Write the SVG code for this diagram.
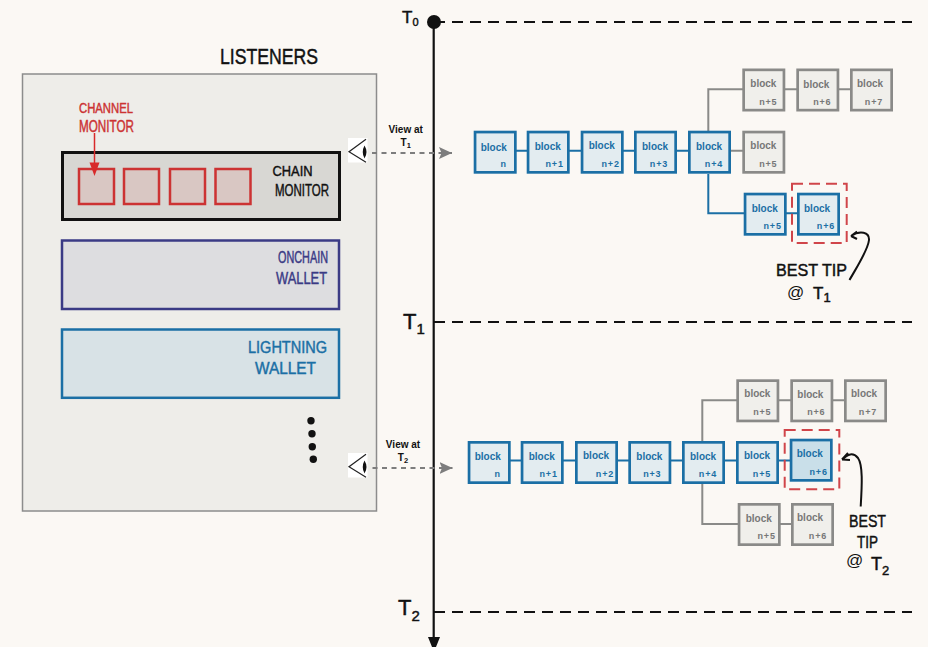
<svg xmlns="http://www.w3.org/2000/svg" width="928" height="647" viewBox="0 0 928 647">
<style>
text{font-family:"Liberation Sans",Arial,sans-serif}
.b rect{x:1.35px;y:1.35px;width:40.3px;height:40.3px;stroke-width:2.7}
.bl rect{fill:#e3ecf0;stroke:#1b6fa5}
.bl text{fill:#1b6fa5}
.tip rect{fill:#c9dfe9;stroke:#1b6fa5}
.tip text{fill:#1b6fa5}
.gr rect{fill:#f0efeb;stroke:#8a8a88}
.gr text{fill:#777}
.w{font-size:10px;font-weight:bold}
.v{font-size:9px;font-weight:bold;letter-spacing:.8px;text-anchor:end}
.hand{stroke-width:.45px}
.k{fill:#111;stroke:#111}
.r{fill:#cc3333;stroke:#cc3333}
.p{fill:#3a3a85;stroke:#3a3a85}
.u{fill:#1b6fa5;stroke:#1b6fa5}
.lk{fill:none;stroke-width:2}
.lb{stroke:#1b6fa5}
.lg{stroke:#8a8a88}
.tl{stroke:#111;stroke-width:2;stroke-dasharray:11 7;fill:none}
.view{stroke:#7d7d7d;stroke-width:2;stroke-dasharray:5 4.5;fill:none}
.best{fill:none;stroke:#d0454a;stroke-width:2;stroke-dasharray:11 6}
.red rect{x:0;y:0;width:35px;height:35px;fill:#d9c7c3;stroke:#cc3333;stroke-width:2.5}
.vw{font-size:10px;font-weight:bold;text-anchor:middle;fill:#111}
</style>
<defs>
<g id="eye">
<rect x="348" y="138" width="19.500" height="24.500" fill="#fff"/>
<path d="M366 139.300 L349 151.700 L366 162.300" fill="none" stroke="#222" stroke-width="1.200"/>
<path d="M364.500 145.500 Q368.500 152 364.500 158.500 Q361 152 364.500 145.500Z" fill="#111"/>
</g>
<marker id="ga" markerWidth="13" markerHeight="12" refX="13" refY="6" orient="auto" markerUnits="userSpaceOnUse"><path d="M0 0L13 6L0 12L2.500 6Z" fill="#7d7d7d"/></marker>
</defs>
<rect width="928" height="647" fill="#fbf8f4"/>

<g id="listeners">
<text x="220" y="64" font-size="22" class="hand k" textLength="98" lengthAdjust="spacingAndGlyphs">LISTENERS</text>
<rect x="22.500" y="74" width="354" height="437" fill="#eeede9" stroke="#8c8c8c" stroke-width="1.500"/>
</g>
<g id="chain-monitor">
<rect x="62.500" y="152.500" width="277" height="67" fill="#d8d7d3" stroke="#111" stroke-width="3"/>
<text x="272.500" y="176" font-size="15.500" class="hand k" textLength="40" lengthAdjust="spacingAndGlyphs">CHAIN</text>
<text x="275" y="195.500" font-size="16.500" class="hand k" textLength="54" lengthAdjust="spacingAndGlyphs">MONITOR</text>
</g>
<g id="channel-monitors" class="red">
<rect transform="translate(79 169)"/>
<rect transform="translate(124 169)"/>
<rect transform="translate(170 169)"/>
<rect transform="translate(215.500 169)"/>
</g>
<g id="channel-monitor-label">
<text x="79" y="113" font-size="14" class="hand r" textLength="54" lengthAdjust="spacingAndGlyphs">CHANNEL</text>
<text x="79" y="132" font-size="16" class="hand r" textLength="55" lengthAdjust="spacingAndGlyphs">MONITOR</text>
<path d="M94.500 133V164" stroke="#d82a2a" stroke-width="1.500"/>
<path d="M89.500 162.500H99.500L94.500 176Z" fill="#d82a2a"/>
</g>
<g id="onchain-wallet">
<rect x="62" y="240.500" width="277" height="68.500" fill="#dddde0" stroke="#3a3a85" stroke-width="2.500"/>
<text x="278" y="263" font-size="16" class="hand p" textLength="50" lengthAdjust="spacingAndGlyphs">ONCHAIN</text>
<text x="276" y="284" font-size="17" class="hand p" textLength="51" lengthAdjust="spacingAndGlyphs">WALLET</text>
</g>
<g id="lightning-wallet">
<rect x="62" y="329.500" width="277" height="68.300" fill="#d8e2e6" stroke="#1b6fa5" stroke-width="2.500"/>
<text x="248" y="353" font-size="17" class="hand u" textLength="79" lengthAdjust="spacingAndGlyphs">LIGHTNING</text>
<text x="255" y="374" font-size="17" class="hand u" textLength="61" lengthAdjust="spacingAndGlyphs">WALLET</text>
</g>
<g id="more-dots" fill="#111">
<circle cx="311" cy="420.700" r="3.700"/><circle cx="312" cy="433.700" r="3.700"/><circle cx="312.300" cy="446.700" r="3.700"/><circle cx="313.300" cy="459.300" r="3.700"/>
</g>

<g id="connectors">
<path class="tl" d="M434 22H912M434 322H912M434 612H912"/>
<path d="M433.700 22V640" stroke="#111" stroke-width="2.200"/>
<path d="M428 637H440L434 652Z" fill="#111"/>
<circle cx="434" cy="22" r="7" fill="#111"/>
<path class="view" d="M372 153H452" marker-end="url(#ga)"/>
<path class="view" d="M372.500 468H452.500" marker-end="url(#ga)"/>
<path class="lk lb" d="M516 150.700H688M708.300 174V213.300H800"/>
<path class="lk lg" d="M708.300 131V89.300H850M720 150.700H745"/>
<path class="lk lb" d="M510 460.500H792"/>
<path class="lk lg" d="M702.300 441V400.300H848M702.300 484V524H795"/>
</g>

<g id="t1-n" class="b bl" transform="translate(473.700 130.700)"><rect/><text class="w" x="7" y="20">block</text><text class="v" x="33" y="36">n</text></g>
<g id="t1-n1" class="b bl" transform="translate(526.700 130.700)"><rect/><text class="w" x="8" y="19">block</text><text class="v" x="37" y="36">n+1</text></g>
<g id="t1-n2" class="b bl" transform="translate(580.700 130.700)"><rect/><text class="w" x="8" y="18">block</text><text class="v" x="39" y="36">n+2</text></g>
<g id="t1-n3" class="b bl" transform="translate(634 130.700)"><rect/><text class="w" x="8" y="19">block</text><text class="v" x="34" y="36">n+3</text></g>
<g id="t1-n4" class="b bl" transform="translate(688 130.700)"><rect/><text class="w" x="8" y="19">block</text><text class="v" x="35" y="36">n+4</text></g>
<g id="t1-g5a" class="b gr" transform="translate(742.300 68.500)"><rect/><text class="w" x="8" y="18">block</text><text class="v" x="35" y="36">n+5</text></g>
<g id="t1-g6a" class="b gr" transform="translate(796.300 68.500)"><rect/><text class="w" x="7" y="19">block</text><text class="v" x="35" y="36">n+6</text></g>
<g id="t1-g7a" class="b gr" transform="translate(850 68.500)"><rect/><text class="w" x="7" y="18">block</text><text class="v" x="33" y="36">n+7</text></g>
<g id="t1-g5b" class="b gr" transform="translate(742.300 130.700)"><rect/><text class="w" x="8" y="18">block</text><text class="v" x="35" y="36">n+5</text></g>
<g id="t1-b5" class="b bl" transform="translate(743.700 192.700)"><rect/><text class="w" x="8" y="19">block</text><text class="v" x="38" y="36">n+5</text></g>
<g id="t1-b6" class="b bl" transform="translate(797 192.700)"><rect/><text class="w" x="7" y="19">block</text><text class="v" x="38" y="36">n+6</text></g>
<rect id="t1-best" class="best" x="792" y="183.700" width="54.700" height="59.300"/>
<g id="t1-note">
<text x="776" y="276" font-size="17" class="hand k" textLength="71" lengthAdjust="spacingAndGlyphs">BEST TIP</text>
<text x="787" y="298" font-size="17" fill="#111">@</text>
<text x="813" y="299" font-size="17" class="hand k">T<tspan font-size="13" dy="3">1</tspan></text>
<path d="M849.500 280C858 265 868 250 869 240C869.500 232 860 230 851 236M851 236L857 231.500M851 236L857 239" fill="none" stroke="#111" stroke-width="2"/>
</g>

<g id="t2-n" class="b bl" transform="translate(467.700 441)"><rect/><text class="w" x="7" y="19">block</text><text class="v" x="33" y="36">n</text></g>
<g id="t2-n1" class="b bl" transform="translate(520.700 441)"><rect/><text class="w" x="8" y="19">block</text><text class="v" x="37" y="36">n+1</text></g>
<g id="t2-n2" class="b bl" transform="translate(575 441)"><rect/><text class="w" x="8" y="18">block</text><text class="v" x="39" y="36">n+2</text></g>
<g id="t2-n3" class="b bl" transform="translate(628.300 441)"><rect/><text class="w" x="8" y="19">block</text><text class="v" x="33" y="36">n+3</text></g>
<g id="t2-n4" class="b bl" transform="translate(682 441)"><rect/><text class="w" x="8" y="19">block</text><text class="v" x="35" y="36">n+4</text></g>
<g id="t2-n5" class="b bl" transform="translate(736 441)"><rect/><text class="w" x="8" y="18">block</text><text class="v" x="35" y="36">n+5</text></g>
<g id="t2-n6" class="b tip" transform="translate(789.700 438.700)"><rect/><text class="w" x="7" y="18">block</text><text class="v" x="38" y="36">n+6</text></g>
<g id="t2-g5a" class="b gr" transform="translate(736.300 379.300)"><rect/><text class="w" x="8" y="18">block</text><text class="v" x="35" y="36">n+5</text></g>
<g id="t2-g6a" class="b gr" transform="translate(790.300 379.300)"><rect/><text class="w" x="7" y="19">block</text><text class="v" x="35" y="36">n+6</text></g>
<g id="t2-g7a" class="b gr" transform="translate(844 379.300)"><rect/><text class="w" x="7" y="18">block</text><text class="v" x="33" y="36">n+7</text></g>
<g id="t2-g5b" class="b gr" transform="translate(737.700 503)"><rect/><text class="w" x="8" y="19">block</text><text class="v" x="38" y="36">n+5</text></g>
<g id="t2-g6b" class="b gr" transform="translate(791 503)"><rect/><text class="w" x="6" y="18">block</text><text class="v" x="36" y="36">n+6</text></g>
<rect id="t2-best" class="best" x="784.700" y="430" width="54.600" height="59.300"/>
<g id="t2-note">
<text x="849" y="527" font-size="17" class="hand k" textLength="37" lengthAdjust="spacingAndGlyphs">BEST</text>
<text x="857" y="548" font-size="17" class="hand k" textLength="21" lengthAdjust="spacingAndGlyphs">TIP</text>
<text x="846" y="566" font-size="17" fill="#111">@</text>
<text x="871" y="570" font-size="18" class="hand k">T<tspan font-size="13" dy="5">2</tspan></text>
<path d="M860.700 506.500C862 485 863 465 858 458C853 452 848 454 842 459.500M842 459.500L848 453M842 459.500L850 460" fill="none" stroke="#111" stroke-width="2"/>
</g>

<g id="view-t1">
<use href="#eye"/>
<text class="vw" x="405.700" y="132.500">View at</text>
<text class="vw" x="405.700" y="146">T<tspan font-size="7.500" dy="2">1</tspan></text>
</g>
<g id="view-t2">
<use href="#eye" y="315"/>
<text class="vw" x="403" y="448">View at</text>
<text class="vw" x="403" y="460.500">T<tspan font-size="7.500" dy="2">2</tspan></text>
</g>
<g id="time-labels">
<text x="402" y="23" font-size="17" class="hand k">T<tspan font-size="11" dy="3">0</tspan></text>
<text x="403" y="329" font-size="22" class="hand k">T<tspan font-size="15" dy="5">1</tspan></text>
<text x="398" y="615" font-size="22" class="hand k">T<tspan font-size="15" dy="6">2</tspan></text>
</g>
</svg>
